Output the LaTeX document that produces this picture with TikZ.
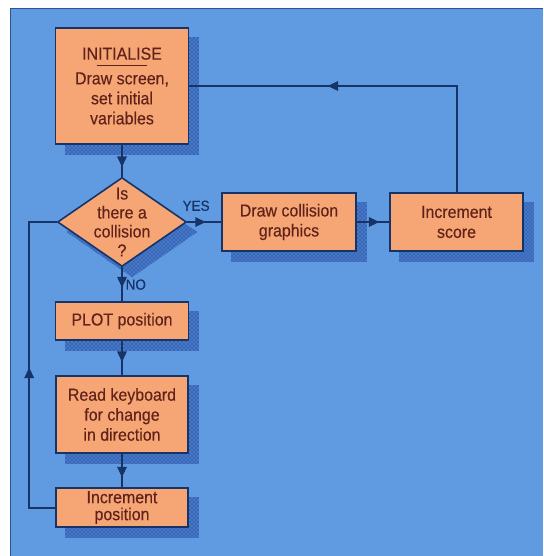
\documentclass[tikz,border=0pt]{standalone}
\usepackage{fontspec}
\setmainfont{Liberation Sans}[FakeStretch=0.92,FakeBold=0.3]
\usetikzlibrary{shapes.geometric,patterns,backgrounds,decorations.markings,arrows.meta}
\definecolor{bgblue}{RGB}{96,155,226}
\definecolor{bgedge}{RGB}{45,85,145}
\definecolor{boxorange}{RGB}{246,166,116}
\definecolor{linenavy}{RGB}{22,52,104}
\definecolor{shadowmid}{RGB}{70,120,200}
\definecolor{dotblue}{RGB}{20,50,125}
\definecolor{textbrown}{RGB}{96,34,26}
\tikzset{
  process/.style={rectangle, draw=linenavy, line width=1.2pt, fill=boxorange, text=textbrown,
    align=center, inner sep=0pt, font=\fontsize{13}{15}\selectfont},
  decision/.style={diamond, draw=linenavy, line width=1.2pt, fill=boxorange, inner sep=0pt},
  shadowpat/.style={preaction={fill=shadowmid}, pattern=crosshatch dots, pattern color=dotblue},
  link/.style={color=linenavy, line width=1.5pt},
  midarrow/.style={postaction={decorate}, decoration={markings,
    mark=at position #1 with {\arrow{Triangle[length=8pt,width=7pt]}}}},
  flowlabel/.style={text=linenavy, inner sep=0pt, font=\fontsize{11}{12}\selectfont}
}
\begin{document}
\begin{tikzpicture}[x=0.75pt,y=-0.75pt]
\useasboundingbox (0,0) rectangle (543,556);
% boxes
\node[process, minimum width=99.75pt, minimum height=87pt] (init) at (122,86)
  {INITIALISE\\[-10pt]\rule{38pt}{0.6pt}\\[-1.5pt]Draw screen,\\set initial\\variables};
\node[decision, minimum width=96.75pt, minimum height=66.75pt] (coll) at (122,222) {};
\node[text=textbrown, align=center, inner sep=0pt, font=\fontsize{13}{14.25}\selectfont]
  (colltext) at (coll) {Is\\there a\\collision\\?};
\node[process, minimum width=100.5pt, minimum height=43.5pt] (draw) at (289,222)
  {Draw collision\\graphics};
\node[process, minimum width=99.75pt, minimum height=43.5pt] (score) at (456.5,222)
  {Increment\\score};
\node[process, minimum width=99.75pt, minimum height=28.5pt] (plot) at (122,321)
  {PLOT position};
\node[process, minimum width=99pt, minimum height=57.75pt] (read) at (122,414.5)
  {Read keyboard\\for change\\in direction};
\node[process, minimum width=99pt, minimum height=29.25pt,
  font=\fontsize{13}{12.75}\selectfont] (incpos) at (122,507.5)
  {Increment\\position};
% background and hatched shadows
\begin{scope}[on background layer]
\fill[bgblue] (10,8) rectangle (543,556);
\draw[bgedge, line width=0.6pt] (10,556) -- (10,8) -- (543,8);
\foreach \n in {init,draw,score,plot,read,incpos}
  \fill[shadowpat] ([shift={(10,10)}]\n.north west) rectangle ([shift={(10,10)}]\n.south east);
\fill[shadowpat] ([shift={(10,10)}]coll.north) -- ([shift={(10,10)}]coll.east)
  -- ([shift={(10,10)}]coll.south) -- ([shift={(10,10)}]coll.west) -- cycle;
\end{scope}
% connectors
\draw[link, midarrow=0.7] (init) -- (coll);
\draw[link, midarrow=0.55] (coll.east) -- node[flowlabel, pos=0.26, above=7.5pt] (yes) {YES} (draw);
\draw[link, midarrow=0.7] (draw) -- (score);
\draw[link, midarrow=0.63] (score.north) |- (init.east);
\draw[link, midarrow=0.6] (coll.south) -- node[flowlabel, pos=0.51, right=2pt] (no) {NO} (plot);
\draw[link, midarrow=0.62] (plot) -- (read);
\draw[link, midarrow=0.71] (read) -- (incpos);
\draw[link, midarrow=0.49] (incpos.west) -- ++(-26,0) |- (coll.west);
\end{tikzpicture}
\end{document}
